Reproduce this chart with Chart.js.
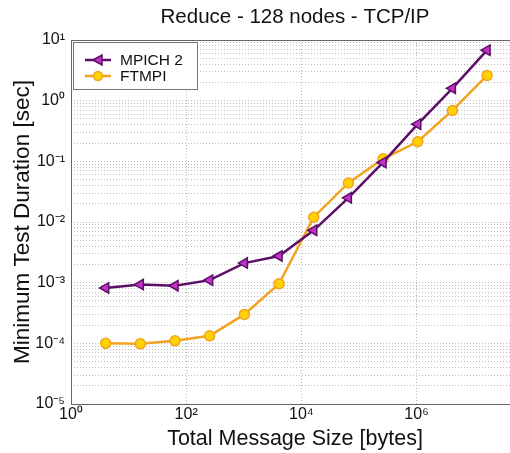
<!DOCTYPE html>
<html>
<head>
<meta charset="utf-8">
<script src="https://cdn.jsdelivr.net/npm/chart.js@4/dist/chart.umd.min.js"></script>
<style>
html,body{margin:0;padding:0;background:#fff;overflow:hidden;width:510px;height:453px;}
#wrap{position:absolute;left:0;top:0;width:545px;height:453px;}
</style>
</head>
<body>
<div id="wrap"><canvas id="c" width="545" height="453"></canvas></div>
<script>
const titleText = "Reduce - 128 nodes - TCP/IP";
const xTitle = "Total Message Size [bytes]";
const yTitle = "Minimum Test Duration [sec]";
const seriesNames = ["MPICH 2", "FTMPI"];
const sizes = [4, 16, 64, 256, 1024, 4096, 16384, 65536, 262144, 1048576, 4194304, 16777216];
const mpich = [8.2e-4, 9.3e-4, 8.9e-4, 1.1e-3, 2.1e-3, 2.75e-3, 7.3e-3, 2.5e-2, 0.096, 0.41, 1.6, 6.8];
const ftmpi = [1.0e-4, 9.8e-5, 1.1e-4, 1.33e-4, 3.0e-4, 9.6e-4, 1.2e-2, 4.4e-2, 0.11, 0.21, 0.69, 2.6];
const xTickExps = [0, 2, 4, 6, 8];
const yTickExps = [-5, -4, -3, -2, -1, 0, 1];

const SUP = {'-':'\u207B','0':'\u2070','1':'\u00B9','2':'\u00B2','3':'\u00B3','4':'\u2074','5':'\u2075','6':'\u2076','7':'\u2077','8':'\u2078','9':'\u2079'};
function powLabel(v){
  const e = Math.round(Math.log10(v));
  if (Math.abs(Math.log10(v) - e) > 1e-6) return '';
  return '10' + String(e).split('').map(ch => SUP[ch]).join('');
}

const FONT = '"Liberation Sans", Arial, Helvetica, sans-serif';
const purple = '#5b0f66', purpleFill = '#c233c8';
const orange = '#f2a31f', yellowFill = '#ffd200';

const textPlugin = {
  id: 'texts',
  afterDraw(chart){
    const ctx = chart.ctx, a = chart.chartArea;
    ctx.save();
    // frame
    ctx.strokeStyle = '#666';
    ctx.lineWidth = 1;
    ctx.strokeRect(a.left + 0.5, a.top + 0.5, a.right - a.left, a.bottom - a.top);
    // titles
    ctx.fillStyle = '#111';
    ctx.textAlign = 'center';
    ctx.textBaseline = 'middle';
    ctx.font = '20.5px ' + FONT;
    ctx.fillText(titleText, 295, 17);
    ctx.font = '21.5px ' + FONT;
    ctx.fillText(xTitle, 295, 439);
    ctx.save();
    ctx.font = '22.5px ' + FONT;
    ctx.translate(23, 222);
    ctx.rotate(-Math.PI / 2);
    ctx.fillText(yTitle, 0, 0);
    ctx.restore();
    // legend
    const lx = a.left + 2, ly = a.top + 2, lw = 124, lh = 47;
    ctx.fillStyle = '#fff';
    ctx.fillRect(lx, ly, lw, lh);
    ctx.strokeStyle = '#777';
    ctx.lineWidth = 1;
    ctx.strokeRect(lx + 0.5, ly + 0.5, lw, lh);
    chart.data.datasets.forEach((ds, i) => {
      const cy = ly + 18 + i * 16;
      ctx.strokeStyle = ds.borderColor;
      ctx.lineWidth = 2.5;
      ctx.beginPath(); ctx.moveTo(lx + 12, cy); ctx.lineTo(lx + 38, cy); ctx.stroke();
      ctx.fillStyle = ds.pointBackgroundColor;
      ctx.strokeStyle = ds.pointBorderColor;
      ctx.lineWidth = 1.5;
      const px = lx + 25;
      ctx.beginPath();
      if (ds.pointStyle === 'triangle') {
        ctx.moveTo(px - 5, cy); ctx.lineTo(px + 4, cy - 5); ctx.lineTo(px + 4, cy + 5); ctx.closePath();
      } else {
        ctx.arc(px, cy, 4.5, 0, Math.PI * 2);
      }
      ctx.fill(); ctx.stroke();
      ctx.fillStyle = '#111';
      ctx.textAlign = 'left';
      ctx.font = '15.5px ' + FONT;
      ctx.fillText(ds.label, lx + 47, cy + 1);
    });
    ctx.restore();
  }
};

new Chart(document.getElementById('c'), {
  type: 'line',
  data: {
    datasets: [
      {
        label: seriesNames[0],
        data: sizes.map((s, i) => ({x: s, y: mpich[i]})),
        borderColor: purple, borderWidth: 2.5,
        pointStyle: 'triangle', pointRotation: -90, pointRadius: 6,
        pointBackgroundColor: purpleFill, pointBorderColor: purple, pointBorderWidth: 1.5,
        tension: 0
      },
      {
        label: seriesNames[1],
        data: sizes.map((s, i) => ({x: s, y: ftmpi[i]})),
        borderColor: orange, borderWidth: 2.5,
        pointStyle: 'circle', pointRadius: 5,
        pointBackgroundColor: yellowFill, pointBorderColor: orange, pointBorderWidth: 1.5,
        tension: 0
      }
    ]
  },
  options: {
    responsive: false,
    animation: false,
    devicePixelRatio: 1,
    layout: { padding: { left: 0, top: 40, right: 7, bottom: 0 } },
    plugins: { legend: { display: false }, title: { display: false }, tooltip: { enabled: false } },
    scales: {
      x: {
        type: 'logarithmic', min: 1, max: 1e8,
        afterBuildTicks(s){ s.ticks = xTickExps.map(e => ({value: Math.pow(10, e)})); },
        afterFit(s){ s.height = 49; },
        ticks: { callback: v => powLabel(v), autoSkip: false, maxRotation: 0, color: '#111', font: { family: FONT, size: 16 }, padding: 1 },
        grid: { color: '#b8b8b8', drawTicks: false, lineWidth: 1 },
        border: { display: false, dash: [1, 2] }
      },
      y: {
        type: 'logarithmic', min: 1e-5, max: 10,
        afterBuildTicks(s){
          const t = [];
          yTickExps.forEach(e => {
            for (let k = 1; k <= 9; k++) {
              const v = k * Math.pow(10, e);
              if (v <= 10.0001) t.push({value: v});
            }
          });
          s.ticks = t;
        },
        afterFit(s){ s.width = 71; },
        ticks: { callback: v => powLabel(v), autoSkip: false, color: '#111', font: { family: FONT, size: 16 }, padding: 6 },
        grid: { color: '#bdbdbd', drawTicks: false, lineWidth: 1 },
        border: { display: false, dash: [1, 2] }
      }
    }
  },
  plugins: [textPlugin]
});
</script>
</body>
</html>
